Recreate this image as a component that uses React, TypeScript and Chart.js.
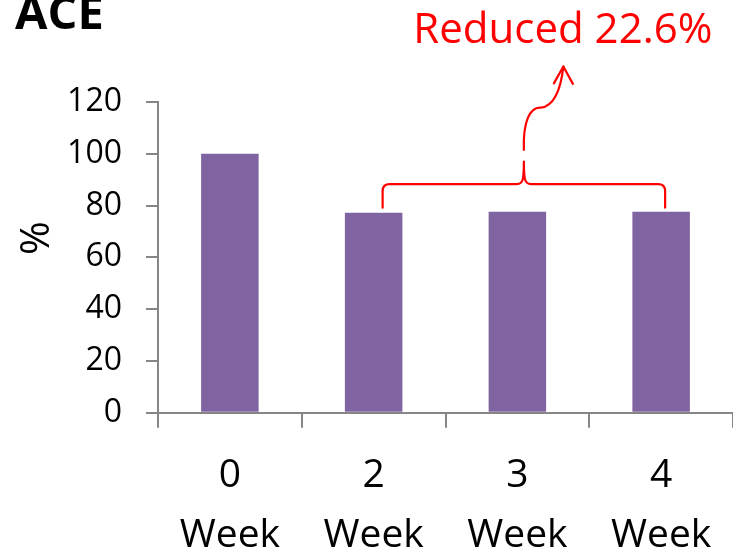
import React, { useEffect, useRef } from 'react';
import { Chart, registerables } from 'chart.js';

Chart.register(...registerables);

// Chart data
const weekNumbers = ['0', '2', '3', '4'];
const weekUnit = 'Week';
const percentValues = [100, 77.2, 77.6, 77.6];
const yMin = 0;
const yMax = 120;
const yStep = 20;
const chartTitle = 'ACE';
const yAxisTitle = '%';
const reductionLabel = 'Reduced 22.6%';
// bracket spans from this category to the last one
const bracketFrom = 1;
const bracketTo = 3;

const BAR_COLOR = '#8064A2';
const AXIS_COLOR = '#868686';
const RED = '#FF0000';
const FONT = "'Open Sans', sans-serif";

const W = 733;
const H = 551;

const annotationPlugin = {
  id: 'reductionAnnotation',
  afterDraw(chart: any) {
    const { ctx } = chart;
    const x = chart.scales.x;
    const y = chart.scales.y;
    ctx.save();

    // Chart title
    ctx.fillStyle = '#000';
    ctx.font = `bold 47px ${FONT}`;
    ctx.textAlign = 'left';
    ctx.textBaseline = 'alphabetic';
    ctx.fillText(chartTitle, 15, 29);

    // Rotated y-axis title
    ctx.save();
    ctx.translate(37, 238);
    ctx.rotate(-Math.PI / 2);
    ctx.font = `41px ${FONT}`;
    ctx.textAlign = 'center';
    ctx.textBaseline = 'middle';
    ctx.fillText(yAxisTitle, 0, 0);
    ctx.restore();

    // Curly bracket over the reduced weeks
    const left = x.getPixelForValue(bracketFrom) + 9;
    const right = x.getPixelForValue(bracketTo) + 4;
    const mid = (left + right) / 2;
    const yLine = y.getPixelForValue(88.3);
    const yEnd = y.getPixelForValue(79.2);
    const yCusp = y.getPixelForValue(97);
    const r = 7;

    ctx.strokeStyle = RED;
    ctx.lineWidth = 2.2;
    ctx.lineCap = 'round';
    ctx.lineJoin = 'round';
    ctx.beginPath();
    ctx.moveTo(left, yEnd);
    ctx.lineTo(left, yLine + r);
    ctx.quadraticCurveTo(left, yLine, left + r, yLine);
    ctx.lineTo(mid - 7, yLine);
    ctx.bezierCurveTo(mid - 1, yLine, mid, yLine - 4, mid, yCusp);
    ctx.bezierCurveTo(mid, yLine - 4, mid + 1, yLine, mid + 7, yLine);
    ctx.lineTo(right - r, yLine);
    ctx.quadraticCurveTo(right, yLine, right, yLine + r);
    ctx.lineTo(right, yEnd);
    ctx.stroke();

    // Curved arrow pointing to the label
    const yStart = y.getPixelForValue(101.5);
    const yBump = y.getPixelForValue(117.8);
    const yTip = y.getPixelForValue(133.7);
    const yHead = y.getPixelForValue(127.2);
    ctx.beginPath();
    ctx.moveTo(mid, yStart);
    ctx.bezierCurveTo(mid - 1, yStart - 28, mid + 6, yBump - 1, mid + 17, yBump);
    ctx.bezierCurveTo(mid + 31, yBump - 2, mid + 37, yTip + 22, mid + 39.5, yTip);
    ctx.stroke();
    ctx.beginPath();
    ctx.moveTo(mid + 30, yHead);
    ctx.lineTo(mid + 39.5, yTip);
    ctx.lineTo(mid + 49, yHead + 0.5);
    ctx.stroke();

    // Label
    ctx.fillStyle = RED;
    ctx.font = `42px ${FONT}`;
    ctx.textAlign = 'center';
    ctx.textBaseline = 'alphabetic';
    ctx.fillText(reductionLabel, mid + 39, 43);

    ctx.restore();
  },
};

export default function App() {
  const canvasRef = useRef<HTMLCanvasElement | null>(null);

  useEffect(() => {
    const canvas = canvasRef.current;
    if (!canvas) return;
    const chart = new Chart(canvas, {
      type: 'bar',
      data: {
        labels: weekNumbers.map((n) => [n, weekUnit]),
        datasets: [
          {
            data: percentValues,
            backgroundColor: BAR_COLOR,
            borderWidth: 0,
            categoryPercentage: 0.4,
            barPercentage: 1.0,
          },
        ],
      },
      options: {
        responsive: false,
        animation: false,
        devicePixelRatio: 1,
        layout: { padding: { top: 102, left: 0, right: 0, bottom: 0 } },
        plugins: {
          legend: { display: false },
          tooltip: { enabled: false },
          title: { display: false },
        },
        scales: {
          x: {
            offset: true,
            grid: {
              offset: true,
              drawOnChartArea: false,
              drawTicks: true,
              tickLength: 15,
              color: AXIS_COLOR,
              lineWidth: 2,
            },
            border: { display: true, color: AXIS_COLOR, width: 2 },
            ticks: {
              color: '#000',
              font: { family: FONT, size: 39, lineHeight: 60 / 39 },
              padding: 18,
              maxRotation: 0,
              autoSkip: false,
            },
            afterFit(scale: any) {
              scale.height = 138.3;
            },
          },
          y: {
            min: yMin,
            max: yMax,
            grid: {
              drawOnChartArea: false,
              drawTicks: true,
              tickLength: 12,
              color: AXIS_COLOR,
              lineWidth: 2,
            },
            border: { display: true, color: AXIS_COLOR, width: 2 },
            ticks: {
              stepSize: yStep,
              color: '#000',
              font: { family: FONT, size: 32 },
              padding: 24,
            },
            afterFit(scale: any) {
              scale.width = 158;
            },
          },
        },
      },
      plugins: [annotationPlugin],
    });
    return () => chart.destroy();
  }, []);

  return (
    <div style={{ position: 'absolute', left: 0, top: 0, width: W, height: H, background: '#fff' }}>
      <canvas ref={canvasRef} width={W} height={H} style={{ display: 'block', width: W, height: H }} />
    </div>
  );
}
